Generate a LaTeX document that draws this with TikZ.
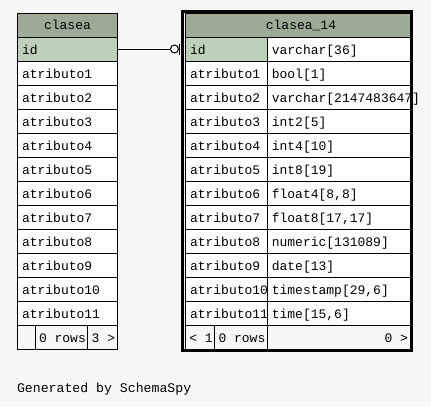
\documentclass[tikz,border=0pt]{standalone}
\usepackage{fontspec}
\setmonofont{Liberation Mono}
\usetikzlibrary{calc}
\definecolor{bgc}{HTML}{F7F7F7}
\definecolor{hdr}{HTML}{9BAB96}
\definecolor{pkc}{HTML}{BED1B8}
\begin{document}
\begin{tikzpicture}[x=1pt,y=-1pt,line width=1pt,
  cell/.style={draw=black,fill=white,rectangle,inner sep=0pt,outer sep=0pt,anchor=north west,minimum height=24pt},
  hcell/.style={cell,fill=hdr},
  pcell/.style={cell,fill=pkc},
  fcell/.style={cell,fill=bgc},
  txt/.style={font=\ttfamily\fontsize{13}{13}\selectfont,inner sep=0pt,anchor=base west},
  htxt/.style={txt,anchor=base},
  thick border/.style={draw=black,line width=3pt},
  link/.style={draw=black,line width=1pt}]
\fill[bgc] (0,0) rectangle (431,407);
\useasboundingbox (0,0) rectangle (431,407);

% ---------- table clasea ----------
\node[hcell,minimum width=100pt] (lh) at (17,13) {};
\node[htxt] (lht) at ($(lh.center)+(0.5,4.5)$) {clasea};
\node[pcell,minimum width=100pt] (lid) at (17,37) {};
\node[txt] (lidt) at ($(lid.west)+(4.5,5.3)$) {id};
\foreach \t [count=\i from 1] in {atributo1,atributo2,atributo3,atributo4,atributo5,atributo6,atributo7,atributo8,atributo9,atributo10,atributo11} {
  \node[cell,minimum width=100pt] (l\i) at (17,{37+24*\i}) {};
  \node[txt] (lt\i) at ($(l\i.west)+(4.5,5.3)$) {\t};
}
\node[fcell,minimum width=18pt] (lf1) at (17,325) {};
\node[fcell,minimum width=52pt] (lf2) at (35,325) {};
\node[fcell,minimum width=30pt] (lf3) at (87,325) {};
\node[txt] (lf2t) at ($(lf2.west)+(3.5,5.3)$) {0 rows};
\node[txt] (lf3t) at ($(lf3.west)+(4.2,5.3)$) {3 >};

% ---------- table clasea_14 ----------
\node[hcell,minimum width=225pt] (rh) at (185,13) {};
\node[htxt] (rht) at ($(rh.center)+(3.5,4.5)$) {clasea\_14};
% first column
\node[pcell,minimum width=82pt] (rid) at (185,37) {};
\node[txt] (ridt) at ($(rid.west)+(4.5,5.3)$) {id};
\foreach \t [count=\i from 1] in {atributo1,atributo2,atributo3,atributo4,atributo5,atributo6,atributo7,atributo8,atributo9,atributo10,atributo11} {
  \node[cell,minimum width=82pt] (ra\i) at (185,{37+24*\i}) {};
  \node[txt] (rat\i) at ($(ra\i.west)+(4.5,5.3)$) {\t};
}
% second column
\node[cell,minimum width=143pt] (rtid) at (267,37) {};
\node[txt] (rtidt) at ($(rtid.west)+(4.3,5.3)$) {varchar[36]};
\foreach \t [count=\i from 1] in {bool[1],varchar[2147483647],int2[5],int4[10],int8[19],float4[8{,}8],float8[17{,}17],numeric[131089],date[13],timestamp[29{,}6],time[15{,}6]} {
  \node[cell,minimum width=143pt] (rb\i) at (267,{37+24*\i}) {};
  \node[txt] (rbt\i) at ($(rb\i.west)+(4.3,5.3)$) {\t};
}
% footer
\node[fcell,minimum width=29pt] (rf1) at (185,325) {};
\node[fcell,minimum width=53pt] (rf2) at (214,325) {};
\node[fcell,minimum width=143pt] (rf3) at (267,325) {};
\node[txt] (rf1t) at ($(rf1.west)+(3.8,5.3)$) {< 1};
\node[txt] (rf2t) at ($(rf2.west)+(4,5.3)$) {0 rows};
\node[txt,anchor=base east] (rf3t) at ($(rf3.east)+(-1.5,5.3)$) {0 >};

% bold frame of the selected table
\coordinate (fr1) at (182.5,11.5);
\coordinate (fr2) at (411.5,350.5);
\draw[thick border] (fr1) rectangle (fr2);

% ---------- relationship ----------
\node[circle,draw=black,fill=bgc,line width=1pt,minimum size=8pt,inner sep=0pt] (circ) at (174.5,49) {};
\draw[link] (lid.east) -- (circ.west);
\coordinate (tk1) at (179.5,44);
\coordinate (tk2) at (179.5,55);
\draw[link] (tk1) -- (tk2);

% ---------- caption ----------
\node[txt,font=\ttfamily\fontsize{13.2}{13.2}\selectfont] (gen) at (16.5,392) {Generated by SchemaSpy};
\end{tikzpicture}
\end{document}
